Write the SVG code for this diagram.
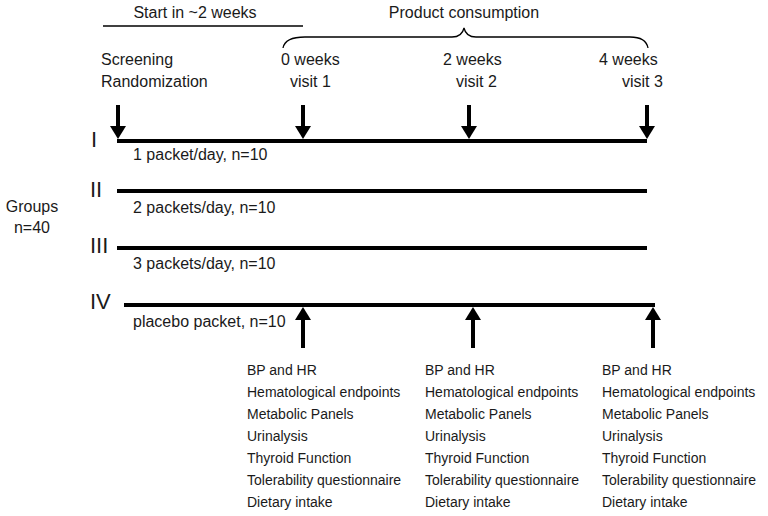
<svg xmlns="http://www.w3.org/2000/svg" width="768" height="516" viewBox="0 0 768 516">
<defs>
<style>
text{font-family:"Liberation Sans",Arial,sans-serif;fill:#1a1a1a;}
.h{font-size:16px;}
.r{font-size:22px;}
.l{font-size:14px;}
.tl{stroke:#000;stroke-width:4;fill:none;}
.ar{stroke:#000;stroke-width:4;fill:none;marker-end:url(#ah);}
.thin{stroke:#000;stroke-width:1.3;fill:none;}
</style>
<marker id="ah" markerUnits="userSpaceOnUse" markerWidth="13" markerHeight="16" viewBox="0 0 13 16" refX="1" refY="8" orient="auto">
<path d="M0,0 L13,8 L0,16 Z" fill="#000"/>
</marker>
</defs>
<rect width="768" height="516" fill="#fff"/>

<g id="header">
<text class="h" x="195" y="18" text-anchor="middle">Start in ~2 weeks</text>
<line class="thin" x1="103" y1="26" x2="303" y2="26"/>
<text class="h" x="464" y="18" text-anchor="middle">Product consumption</text>
<path class="thin" d="M283,48 Q285,37 305,37 L452,37 Q462,37 464,28 Q466,37 476,37 L630,37 Q646,37 648,48"/>
</g>

<g id="timepoints">
<text class="h" x="101" y="65">Screening</text>
<text class="h" x="101" y="87">Randomization</text>
<text class="h" x="281" y="65">0 weeks</text>
<text class="h" x="290" y="87">visit 1</text>
<text class="h" x="443" y="65">2 weeks</text>
<text class="h" x="456" y="87">visit 2</text>
<text class="h" x="599" y="65">4 weeks</text>
<text class="h" x="622" y="87">visit 3</text>
</g>

<g id="groups-label">
<text class="h" x="32" y="212" text-anchor="middle">Groups</text>
<text class="h" x="32" y="233" text-anchor="middle">n=40</text>
</g>

<g id="group-I">
<text class="r" x="91" y="147">I</text>
<line class="tl" x1="117" y1="141" x2="647" y2="141"/>
<text class="h" x="133" y="160">1 packet/day, n=10</text>
</g>
<g id="group-II">
<text class="r" x="90" y="197">II</text>
<line class="tl" x1="117" y1="191" x2="647" y2="191"/>
<text class="h" x="133" y="213">2 packets/day, n=10</text>
</g>
<g id="group-III">
<text class="r" x="90" y="253">III</text>
<line class="tl" x1="117" y1="248" x2="647" y2="248"/>
<text class="h" x="133" y="269">3 packets/day, n=10</text>
</g>
<g id="group-IV">
<text class="r" x="90" y="309">IV</text>
<line class="tl" x1="124" y1="305" x2="655" y2="305"/>
<text class="h" x="133" y="327">placebo packet, n=10</text>
</g>

<g id="connectors">
<line class="ar" x1="118" y1="105" x2="118" y2="127"/>
<line class="ar" x1="303" y1="105" x2="303" y2="127"/>
<line class="ar" x1="469" y1="105" x2="469" y2="127"/>
<line class="ar" x1="647" y1="105" x2="647" y2="127"/>
<line class="ar" x1="303" y1="348" x2="303" y2="319"/>
<line class="ar" x1="473" y1="348" x2="473" y2="319"/>
<line class="ar" x1="653" y1="348" x2="653" y2="319"/>
</g>

<g id="list-1">
<text class="l" x="247" y="375">BP and HR</text>
<text class="l" x="247" y="397">Hematological endpoints</text>
<text class="l" x="247" y="419">Metabolic Panels</text>
<text class="l" x="247" y="441">Urinalysis</text>
<text class="l" x="247" y="463">Thyroid Function</text>
<text class="l" x="247" y="485">Tolerability questionnaire</text>
<text class="l" x="247" y="507">Dietary intake</text>
</g>
<g id="list-2">
<text class="l" x="425" y="375">BP and HR</text>
<text class="l" x="425" y="397">Hematological endpoints</text>
<text class="l" x="425" y="419">Metabolic Panels</text>
<text class="l" x="425" y="441">Urinalysis</text>
<text class="l" x="425" y="463">Thyroid Function</text>
<text class="l" x="425" y="485">Tolerability questionnaire</text>
<text class="l" x="425" y="507">Dietary intake</text>
</g>
<g id="list-3">
<text class="l" x="602" y="375">BP and HR</text>
<text class="l" x="602" y="397">Hematological endpoints</text>
<text class="l" x="602" y="419">Metabolic Panels</text>
<text class="l" x="602" y="441">Urinalysis</text>
<text class="l" x="602" y="463">Thyroid Function</text>
<text class="l" x="602" y="485">Tolerability questionnaire</text>
<text class="l" x="602" y="507">Dietary intake</text>
</g>
</svg>
